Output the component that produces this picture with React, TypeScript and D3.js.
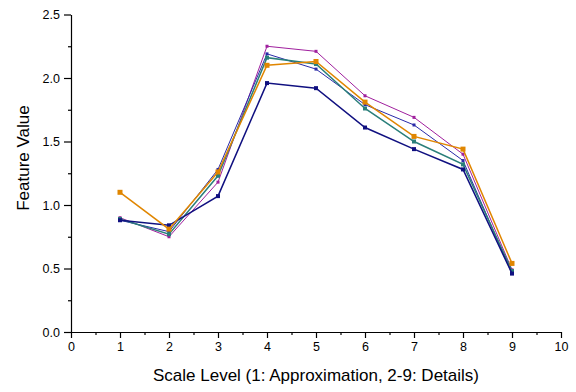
// @ts-nocheck
import * as d3 from "d3";
import { useRef, useEffect } from "react";

const levels = [1, 2, 3, 4, 5, 6, 7, 8, 9];

const purpleValues = [0.9, 0.75, 1.18, 2.25, 2.21, 1.86, 1.69, 1.4, 0.49];
const blueValues = [0.88, 0.79, 1.28, 2.19, 2.07, 1.79, 1.63, 1.35, 0.46];
const tealValues = [0.89, 0.77, 1.23, 2.16, 2.11, 1.76, 1.5, 1.32, 0.48];
const navyValues = [0.88, 0.84, 1.07, 1.96, 1.92, 1.61, 1.44, 1.28, 0.46];
const orangeValues = [1.1, 0.81, 1.26, 2.1, 2.13, 1.81, 1.54, 1.44, 0.54];

const series = [
  { name: "s1", color: "#a0209e", values: purpleValues, width: 1, marker: 3 },
  { name: "s2", color: "#2a2aa8", values: blueValues, width: 1, marker: 3 },
  { name: "s3", color: "#2a7f7a", values: tealValues, width: 1.5, marker: 4 },
  { name: "s4", color: "#101080", values: navyValues, width: 1.5, marker: 4 },
  { name: "s5", color: "#e08600", values: orangeValues, width: 1.5, marker: 5 },
];

const xTicks = [0, 1, 2, 3, 4, 5, 6, 7, 8, 9, 10];
const yTicks = [0, 0.5, 1, 1.5, 2, 2.5];

const font = "Liberation Sans, Arial, sans-serif";

export default function App() {
  const width = 576;
  const height = 392;
  const marginLeft = 71;
  const marginRight = 15;
  const marginTop = 14.5;
  const marginBottom = 60;
  const gx = useRef();
  const gy = useRef();

  const x = d3.scaleLinear([0, 10], [marginLeft, width - marginRight]);
  const y = d3.scaleLinear([0, 2.5], [height - marginBottom, marginTop]);

  useEffect(() => {
    const ax = d3.select(gx.current);
    ax.selectAll("*").remove();
    ax.append("g")
      .call(d3.axisBottom(x).tickValues(d3.range(0.5, 10, 1)).tickSize(3).tickFormat(""))
      .call((g) => g.select(".domain").remove());
    ax.append("g")
      .call(d3.axisBottom(x).tickValues(xTicks).tickSize(6).tickSizeOuter(0).tickPadding(4).tickFormat(d3.format("d")))
      .call((g) => g.selectAll("text").attr("font-size", 12.5).attr("font-family", font).attr("fill", "#000"));
    ax.selectAll("path, line").attr("stroke", "#000").attr("stroke-width", 1.2);
  }, [x]);

  useEffect(() => {
    const ay = d3.select(gy.current);
    ay.selectAll("*").remove();
    ay.append("g")
      .call(d3.axisLeft(y).tickValues(d3.range(0.25, 2.5, 0.5)).tickSize(3).tickFormat(""))
      .call((g) => g.select(".domain").remove());
    ay.append("g")
      .call(d3.axisLeft(y).tickValues(yTicks).tickSize(7).tickSizeOuter(0).tickPadding(4).tickFormat(d3.format(".1f")))
      .call((g) => g.selectAll("text").attr("font-size", 12.5).attr("font-family", font).attr("fill", "#000"));
    ay.selectAll("path, line").attr("stroke", "#000").attr("stroke-width", 1.2);
  }, [y]);

  const lineBuilder = d3
    .line()
    .x((d, i) => x(levels[i]))
    .y((d) => y(d));

  return (
    <svg width={width} height={height} style={{ position: "absolute", left: 0, top: 0, background: "#fff" }}>
      {series.map((s) => (
        <g key={s.name}>
          <path fill="none" stroke={s.color} strokeWidth={s.width} d={lineBuilder(s.values)} />
          {s.values.map((v, i) => (
            <rect
              key={i}
              x={x(levels[i]) - s.marker / 2}
              y={y(v) - s.marker / 2}
              width={s.marker}
              height={s.marker}
              fill={s.color}
            />
          ))}
        </g>
      ))}
      <g ref={gx} transform={`translate(0,${height - marginBottom})`} />
      <g ref={gy} transform={`translate(${marginLeft},0)`} />
      <text x={316} y={381} textAnchor="middle" fontSize={17} fontFamily={font}>
        Scale Level (1: Approximation, 2-9: Details)
      </text>
      <text transform="translate(29,158) rotate(-90)" textAnchor="middle" fontSize={17} fontFamily={font}>
        Feature Value
      </text>
    </svg>
  );
}
